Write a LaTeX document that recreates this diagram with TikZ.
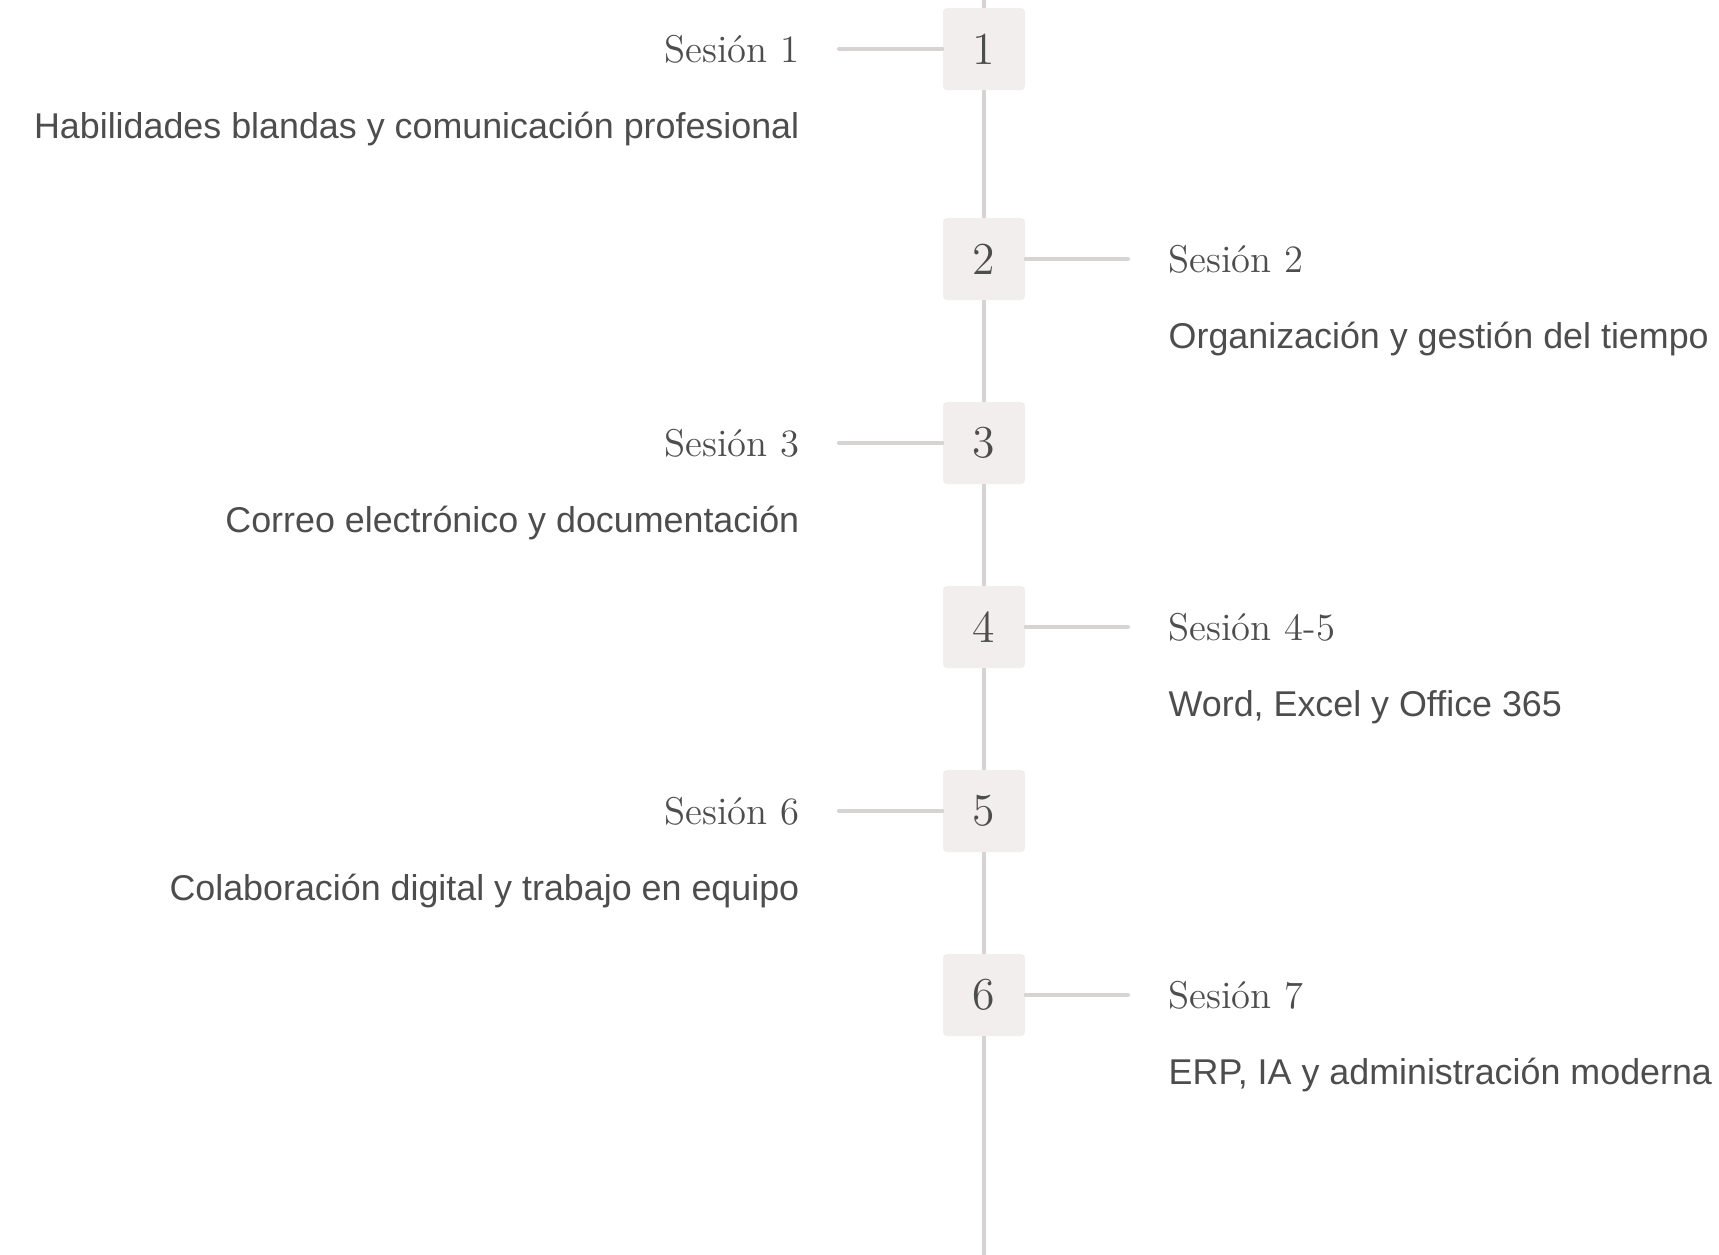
\documentclass[tikz,border=0pt]{standalone}
\usepackage{fontspec}
\setsansfont{Liberation Sans}
\usepackage{xcolor}
\usepackage{tikz}
\usetikzlibrary{positioning,calc}

\definecolor{linegray}{HTML}{D8D3D3}
\definecolor{boxfill}{HTML}{F1EEED}
\definecolor{txtgray}{HTML}{4D4D4D}

\tikzset{
  numbox/.style={fill=boxfill, rounded corners=0.04cm, minimum size=0.82cm, inner sep=0pt,
    text=txtgray, font=\fontsize{13}{14}\selectfont},
  sesion/.style={text=txtgray, inner sep=0pt, font=\fontsize{11}{12}\selectfont},
  desc/.style={text=txtgray, inner sep=0pt, font=\sffamily\fontsize{10.2}{11}\selectfont},
  link/.style={draw=linegray, line width=0.04cm, line cap=round}
}

\begin{document}
\begin{tikzpicture}
		\useasboundingbox (0,0) rectangle (17.19,-12.55);

		% spine of the timeline
		\coordinate (top) at (9.84,0);
		\coordinate (bot) at (9.84,-12.55);
		\draw[link, line cap=butt] (top) -- (bot);

		% numbered boxes
		\node[numbox] (b1) at (9.84,-0.49) {1};
		\node[numbox] (b2) at (9.84,-2.59) {2};
		\node[numbox] (b3) at (9.84,-4.43) {3};
		\node[numbox] (b4) at (9.84,-6.27) {4};
		\node[numbox] (b5) at (9.84,-8.11) {5};
		\node[numbox] (b6) at (9.84,-9.95) {6};

		% left side: sessions 1, 3, 6
		\node[sesion, anchor=east] (s1) at (8.00,-0.49) {Sesión 1};
		\node[desc, anchor=east] (d1) at (8.00,-1.29) {Habilidades blandas y comunicación profesional};
		\node[sesion, anchor=east] (s3) at (8.00,-4.43) {Sesión 3};
		\node[desc, anchor=east] (d3) at (8.00,-5.23) {Correo electrónico y documentación};
		\node[sesion, anchor=east] (s6) at (8.00,-8.11) {Sesión 6};
		\node[desc, anchor=east] (d6) at (8.00,-8.91) {Colaboración digital y trabajo en equipo};

		% right side: sessions 2, 4-5, 7
		\node[sesion, anchor=west] (s2) at (11.68,-2.59) {Sesión 2};
		\node[desc, anchor=west] (d2) at (11.68,-3.39) {Organización y gestión del tiempo};
		\node[sesion, anchor=west] (s45) at (11.68,-6.27) {Sesión 4-5};
		\node[desc, anchor=west] (d45) at (11.68,-7.07) {Word, Excel y Office 365};
		\node[sesion, anchor=west] (s7) at (11.68,-9.95) {Sesión 7};
		\node[desc, anchor=west] (d7) at (11.68,-10.75) {ERP, IA y administración moderna};

		% connectors from boxes to labels
		\draw[link, shorten <=0.39cm] (s1.east |- b1.west) -- (b1.west);
		\draw[link, shorten <=0.39cm] (s3.east |- b3.west) -- (b3.west);
		\draw[link, shorten <=0.39cm] (s6.east |- b5.west) -- (b5.west);
		\draw[link, shorten >=0.40cm] (b2.east) -- (s2.west |- b2.east);
		\draw[link, shorten >=0.40cm] (b4.east) -- (s45.west |- b4.east);
		\draw[link, shorten >=0.40cm] (b6.east) -- (s7.west |- b6.east);
	\end{tikzpicture}
\end{document}
